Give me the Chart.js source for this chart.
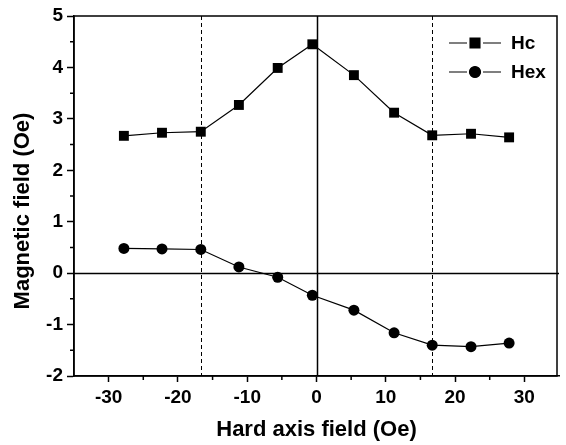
<!DOCTYPE html>
<html>
<head>
<meta charset="utf-8">
<script src="https://cdn.jsdelivr.net/npm/chart.js@4/dist/chart.umd.min.js"></script>
<style>
  html, body { margin: 0; padding: 0; background: #fff; }
</style>
</head>
<body>
<canvas id="chart" width="566" height="445"></canvas>
<script>
// hard axis field (Oe)
const fieldValues = [-27.8, -22.3, -16.7, -11.2, -5.6, -0.6, 5.4, 11.2, 16.7, 22.3, 27.8];
const hcValues = [2.67, 2.73, 2.75, 3.27, 3.99, 4.45, 3.85, 3.12, 2.68, 2.71, 2.64];
const hexValues = [0.48, 0.47, 0.46, 0.12, -0.08, -0.43, -0.72, -1.16, -1.40, -1.43, -1.36];

const xTicks = [-30, -20, -10, 0, 10, 20, 30];
const xMinorTicks = [-25, -15, -5, 5, 15, 25];
const yMinorTicks = [4.5, 3.5, 2.5, 1.5, 0.5, -0.5, -1.5];
const dashedLines = [-16.7, 16.7];
const legendItems = [
    { label: 'Hc', style: 'rect', radius: 7 },
    { label: 'Hex', style: 'circle', radius: 5.5 },
];
const yTitle = 'Magnetic field (Oe)';

const fontFamily = '"Liberation Sans", Arial, sans-serif';

function toPoints(values) {
    return fieldValues.map((x, i) => ({ x: x, y: values[i] }));
}

const decorPlugin = {
    id: 'decor',
    beforeDatasetsDraw(chart) {
        const ctx = chart.ctx;
        const area = chart.chartArea;
        const xs = chart.scales.x;
        const ys = chart.scales.y;
        ctx.save();
        ctx.strokeStyle = '#000';

        // zero lines
        ctx.lineWidth = 1.5;
        ctx.beginPath();
        const x0 = Math.round(xs.getPixelForValue(0)) + 0.5;
        const y0 = Math.round(ys.getPixelForValue(0)) + 0.5;
        ctx.moveTo(x0, area.top);
        ctx.lineTo(x0, area.bottom);
        ctx.moveTo(area.left, y0);
        ctx.lineTo(area.right, y0);
        ctx.stroke();

        // dashed guide lines
        ctx.lineWidth = 1;
        ctx.setLineDash([4, 3]);
        ctx.beginPath();
        dashedLines.forEach(v => {
            const px = Math.round(xs.getPixelForValue(v)) + 0.5;
            ctx.moveTo(px, area.top);
            ctx.lineTo(px, area.bottom);
        });
        ctx.stroke();
        ctx.setLineDash([]);

        // minor ticks
        ctx.lineWidth = 1.5;
        ctx.beginPath();
        xMinorTicks.forEach(v => {
            const px = xs.getPixelForValue(v);
            ctx.moveTo(px, area.bottom);
            ctx.lineTo(px, area.bottom + 4);
        });
        yMinorTicks.forEach(v => {
            const py = ys.getPixelForValue(v);
            ctx.moveTo(area.left, py);
            ctx.lineTo(area.left - 4, py);
        });
        ctx.stroke();

        // frame
        ctx.lineWidth = 1.5;
        ctx.strokeRect(area.left, area.top, area.right - area.left - 2, area.bottom - area.top);
        ctx.restore();
    },
    afterDraw(chart) {
        const ctx = chart.ctx;
        const area = chart.chartArea;
        ctx.save();
        ctx.fillStyle = '#000';
        ctx.strokeStyle = '#000';

        // y axis title, a bit below the middle like the original
        ctx.font = 'bold 22px ' + fontFamily;
        ctx.textAlign = 'center';
        ctx.textBaseline = 'middle';
        ctx.translate(23, 211);
        ctx.rotate(-Math.PI / 2);
        ctx.fillText(yTitle, 0, 0);
        ctx.setTransform(1, 0, 0, 1, 0, 0);

        ctx.font = 'bold 19px ' + fontFamily;
        ctx.textAlign = 'left';
        legendItems.forEach((item, i) => {
            const y = area.top + 27 + i * 29;
            const x1 = area.right - 110;
            const x2 = area.right - 58;
            const xm = (x1 + x2) / 2;
            ctx.lineWidth = 1.2;
            ctx.beginPath();
            ctx.moveTo(x1, y);
            ctx.lineTo(xm - 8, y);
            ctx.moveTo(xm + 8, y);
            ctx.lineTo(x2, y);
            ctx.stroke();
            Chart.helpers.drawPoint(ctx, { pointStyle: item.style, radius: item.radius, borderWidth: 1 }, xm, y);
            ctx.fill();
            ctx.fillText(item.label, area.right - 48, y + 1);
        });
        ctx.restore();
    },
};

new Chart(document.getElementById('chart').getContext('2d'), {
    type: 'scatter',
    data: {
        datasets: [
            {
                label: 'Hc',
                data: toPoints(hcValues),
                showLine: true,
                borderColor: '#000',
                backgroundColor: '#000',
                borderWidth: 1.2,
                pointStyle: 'rect',
                pointRadius: 7,
                pointBorderWidth: 0,
            },
            {
                label: 'Hex',
                data: toPoints(hexValues),
                showLine: true,
                borderColor: '#000',
                backgroundColor: '#000',
                borderWidth: 1.2,
                pointStyle: 'circle',
                pointRadius: 5.5,
                pointBorderWidth: 0,
            },
        ],
    },
    options: {
        responsive: false,
        animation: false,
        layout: { padding: { top: 16, right: 0, left: 0, bottom: 0 } },
        plugins: {
            legend: { display: false },
            tooltip: { enabled: false },
        },
        scales: {
            x: {
                type: 'linear',
                min: -35,
                max: 35,
                afterBuildTicks: scale => { scale.ticks = xTicks.map(v => ({ value: v })); },
                afterFit: scale => {
                    scale.height = 69;
                    scale.paddingLeft = 0;
                    scale.paddingRight = 0;
                },
                grid: { drawOnChartArea: false, drawTicks: true, tickLength: 6, tickWidth: 1.5, tickColor: '#000' },
                border: { display: true, color: '#000', width: 1.5 },
                ticks: {
                    color: '#000',
                    padding: 4,
                    maxRotation: 0,
                    font: { family: fontFamily, size: 19, weight: 'bold' },
                },
                title: {
                    display: true,
                    text: 'Hard axis field (Oe)',
                    color: '#000',
                    padding: { top: 0, bottom: 2 },
                    font: { family: fontFamily, size: 22, weight: 'bold' },
                },
            },
            y: {
                min: -2,
                max: 5,
                afterFit: scale => {
                    scale.width = 74;
                    scale.paddingTop = 0;
                    scale.paddingBottom = 0;
                },
                grid: { drawOnChartArea: false, drawTicks: true, tickLength: 7, tickWidth: 1.5, tickColor: '#000' },
                border: { display: true, color: '#000', width: 1.5 },
                ticks: {
                    stepSize: 1,
                    color: '#000',
                    padding: 4,
                    font: { family: fontFamily, size: 19, weight: 'bold' },
                },
            },
        },
    },
    plugins: [decorPlugin],
});
</script>
</body>
</html>
